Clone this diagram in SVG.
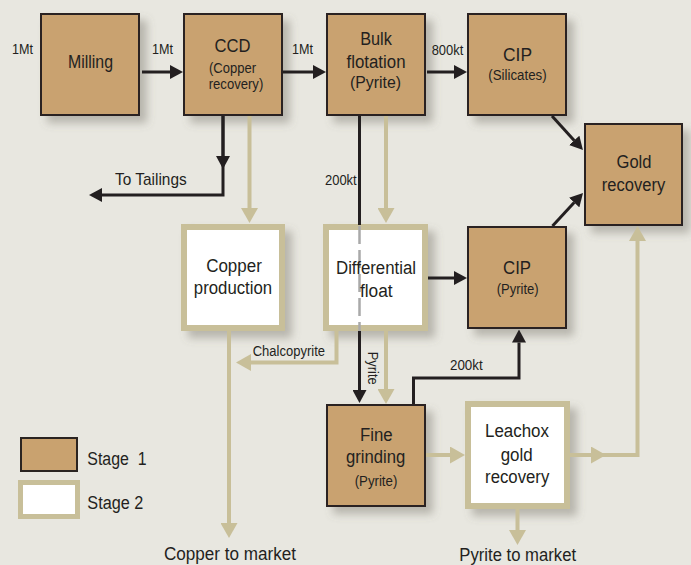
<svg xmlns="http://www.w3.org/2000/svg" width="691" height="565" viewBox="0 0 691 565">
<style>
.s1{fill:#c9a26f;stroke:#2a2421;stroke-width:2}
.s2{fill:#ffffff;stroke:#c8bf99;stroke-width:6}
text{font-family:"Liberation Sans",Arial,sans-serif;fill:#231f20}
.t{font-size:18px;text-anchor:middle}
.st{font-size:14px;text-anchor:middle}
.f{font-size:14px}
.k{fill:none;stroke:#231f20;stroke-width:3;marker-end:url(#ak)}
.kn{fill:none;stroke:#231f20;stroke-width:3}
.b{fill:none;stroke:#c8bf99;stroke-width:4;marker-end:url(#ab)}
.d{fill:none;stroke:#a9a9a9;stroke-width:2.5;stroke-dasharray:18 6}
</style>
<defs>
<marker id="ak" viewBox="0 0 13 14" markerWidth="13" markerHeight="14" refX="0" refY="7" orient="auto" markerUnits="userSpaceOnUse"><path d="M0,0 L13,7 L0,14 z" fill="#231f20"/></marker>
<marker id="ab" viewBox="0 0 15 17" markerWidth="15" markerHeight="17" refX="0" refY="8.5" orient="auto" markerUnits="userSpaceOnUse"><path d="M0,0 L15,8.5 L0,17 z" fill="#c8bf99"/></marker>
<filter id="sh" x="-20%" y="-20%" width="150%" height="150%">
<feGaussianBlur in="SourceAlpha" stdDeviation="4"/>
<feOffset dx="7" dy="7" result="b"/>
<feFlood flood-color="#6e6a60" flood-opacity="0.4"/>
<feComposite in2="b" operator="in"/>
<feMerge><feMergeNode/><feMergeNode in="SourceGraphic"/></feMerge>
</filter>
</defs>
<rect width="691" height="565" fill="#e8e7e0"/>

<g id="milling"><rect class="s1" x="41" y="14" width="98" height="101" filter="url(#sh)"/>
<text class="t" x="90.5" y="68" textLength="45" lengthAdjust="spacingAndGlyphs">Milling</text></g>

<g id="ccd"><rect class="s1" x="184" y="14" width="98" height="101" filter="url(#sh)"/>
<text class="t" x="232.5" y="52" textLength="36" lengthAdjust="spacingAndGlyphs">CCD</text>
<text class="st" x="232.5" y="72.7" textLength="47" lengthAdjust="spacingAndGlyphs">(Copper</text>
<text class="st" x="236" y="89.3" textLength="54.6" lengthAdjust="spacingAndGlyphs">recovery)</text></g>

<g id="bulk"><rect class="s1" x="327" y="14" width="98" height="101" filter="url(#sh)"/>
<text class="t" x="376" y="45" textLength="31.7" lengthAdjust="spacingAndGlyphs">Bulk</text>
<text class="t" x="376" y="68.3" textLength="59" lengthAdjust="spacingAndGlyphs">flotation</text>
<text class="st" x="375.5" y="87.5" style="font-size:16px" textLength="51" lengthAdjust="spacingAndGlyphs">(Pyrite)</text></g>

<g id="cip-silicates"><rect class="s1" x="468" y="14" width="98" height="101" filter="url(#sh)"/>
<text class="t" x="517.5" y="61" textLength="29" lengthAdjust="spacingAndGlyphs">CIP</text>
<text class="st" x="517.5" y="80" textLength="58.3" lengthAdjust="spacingAndGlyphs">(Silicates)</text></g>

<g id="gold-recovery"><rect class="s1" x="585" y="124" width="97" height="101" filter="url(#sh)"/>
<text class="t" x="634" y="168" textLength="35" lengthAdjust="spacingAndGlyphs">Gold</text>
<text class="t" x="633.5" y="190.5" textLength="63.3" lengthAdjust="spacingAndGlyphs">recovery</text></g>

<g id="copper-production"><rect class="s2" x="184" y="227" width="98" height="101" filter="url(#sh)"/>
<text class="t" x="234" y="271.7" textLength="55.7" lengthAdjust="spacingAndGlyphs">Copper</text>
<text class="t" x="233" y="294" textLength="78.3" lengthAdjust="spacingAndGlyphs">production</text></g>

<g id="differential-float"><rect class="s2" x="326" y="227" width="99" height="101" filter="url(#sh)"/>
<path class="d" d="M359.5,226 V331"/>
<text class="t" x="376" y="274" textLength="80" lengthAdjust="spacingAndGlyphs">Differential</text>
<text class="t" x="376.3" y="296.7" textLength="32.7" lengthAdjust="spacingAndGlyphs">float</text></g>

<g id="cip-pyrite"><rect class="s1" x="468" y="227" width="98" height="101" filter="url(#sh)"/>
<text class="t" x="517" y="274" textLength="28" lengthAdjust="spacingAndGlyphs">CIP</text>
<text class="st" x="517.7" y="294" textLength="42" lengthAdjust="spacingAndGlyphs">(Pyrite)</text></g>

<g id="fine-grinding"><rect class="s1" x="327" y="405" width="98" height="101" filter="url(#sh)"/>
<text class="t" x="376.3" y="441" textLength="32.7" lengthAdjust="spacingAndGlyphs">Fine</text>
<text class="t" x="375.7" y="463.3" textLength="59.3" lengthAdjust="spacingAndGlyphs">grinding</text>
<text class="st" x="376" y="486" textLength="42.7" lengthAdjust="spacingAndGlyphs">(Pyrite)</text></g>

<g id="leachox"><rect class="s2" x="468" y="404" width="99" height="102" filter="url(#sh)"/>
<text class="t" x="517" y="437.3" textLength="64" lengthAdjust="spacingAndGlyphs">Leachox</text>
<text class="t" x="516.7" y="460.7" textLength="32" lengthAdjust="spacingAndGlyphs">gold</text>
<text class="t" x="517.2" y="483.3" textLength="64.3" lengthAdjust="spacingAndGlyphs">recovery</text></g>

<g id="connectors">
<path class="k" d="M142,72 H170"/>
<path class="k" d="M283,72 H313"/>
<path class="k" d="M427,72 H454"/>
<path class="k" d="M223,116 V156"/>
<path class="k" d="M223,116 V195 H102"/>
<path class="kn" d="M359.5,116 V225"/>
<path class="k" d="M359.5,331 V390"/>
<path class="k" d="M428,278 H454"/>
<path class="k" d="M552,116 L574.2,140.4"/>
<path class="k" d="M552.5,226 L574.2,202.6"/>
<path class="k" d="M413.5,404 V378 H519 V342.5"/>
<path class="b" d="M249.5,116 V208"/>
<path class="b" d="M386,116 V208"/>
<path class="b" d="M336.5,331 V362.5 H251"/>
<path class="b" d="M229,331 V523"/>
<path class="b" d="M386,331 V389"/>
<path class="b" d="M426,455 H450"/>
<path class="b" d="M570,455 H591"/>
<path class="b" d="M570,455 H637.5 V241"/>
<path class="b" d="M517.5,509 V530"/>
</g>

<g id="labels">
<text class="f" x="12" y="54" textLength="21" lengthAdjust="spacingAndGlyphs">1Mt</text>
<text class="f" x="152" y="54" textLength="21" lengthAdjust="spacingAndGlyphs">1Mt</text>
<text class="f" x="292" y="54" textLength="21" lengthAdjust="spacingAndGlyphs">1Mt</text>
<text class="f" x="431.7" y="55" textLength="31.6" lengthAdjust="spacingAndGlyphs">800kt</text>
<text class="f" x="115" y="185" style="font-size:17px" textLength="71.7" lengthAdjust="spacingAndGlyphs">To Tailings</text>
<text class="f" x="325" y="185" textLength="31.7" lengthAdjust="spacingAndGlyphs">200kt</text>
<text class="f" x="252.7" y="356" textLength="72.3" lengthAdjust="spacingAndGlyphs">Chalcopyrite</text>
<text class="f" transform="translate(368,351.7) rotate(90)" textLength="33" lengthAdjust="spacingAndGlyphs">Pyrite</text>
<text class="f" x="450" y="370" textLength="32.7" lengthAdjust="spacingAndGlyphs">200kt</text>
<text class="t" x="230" y="560" style="font-size:17.5px" textLength="132" lengthAdjust="spacingAndGlyphs">Copper to market</text>
<text class="t" x="517.7" y="561" style="font-size:17.5px" textLength="116.7" lengthAdjust="spacingAndGlyphs">Pyrite to market</text>
</g>

<g id="legend">
<rect class="s1" x="21" y="438" width="56" height="33"/>
<rect fill="#ffffff" stroke="#c8bf99" stroke-width="5" x="20.5" y="482.5" width="57" height="34"/>
<text x="87.3" y="465" style="font-size:18px" textLength="59.3" lengthAdjust="spacingAndGlyphs">Stage&#160; 1</text>
<text x="87.3" y="509" style="font-size:18px" textLength="56" lengthAdjust="spacingAndGlyphs">Stage 2</text>
</g>
</svg>
